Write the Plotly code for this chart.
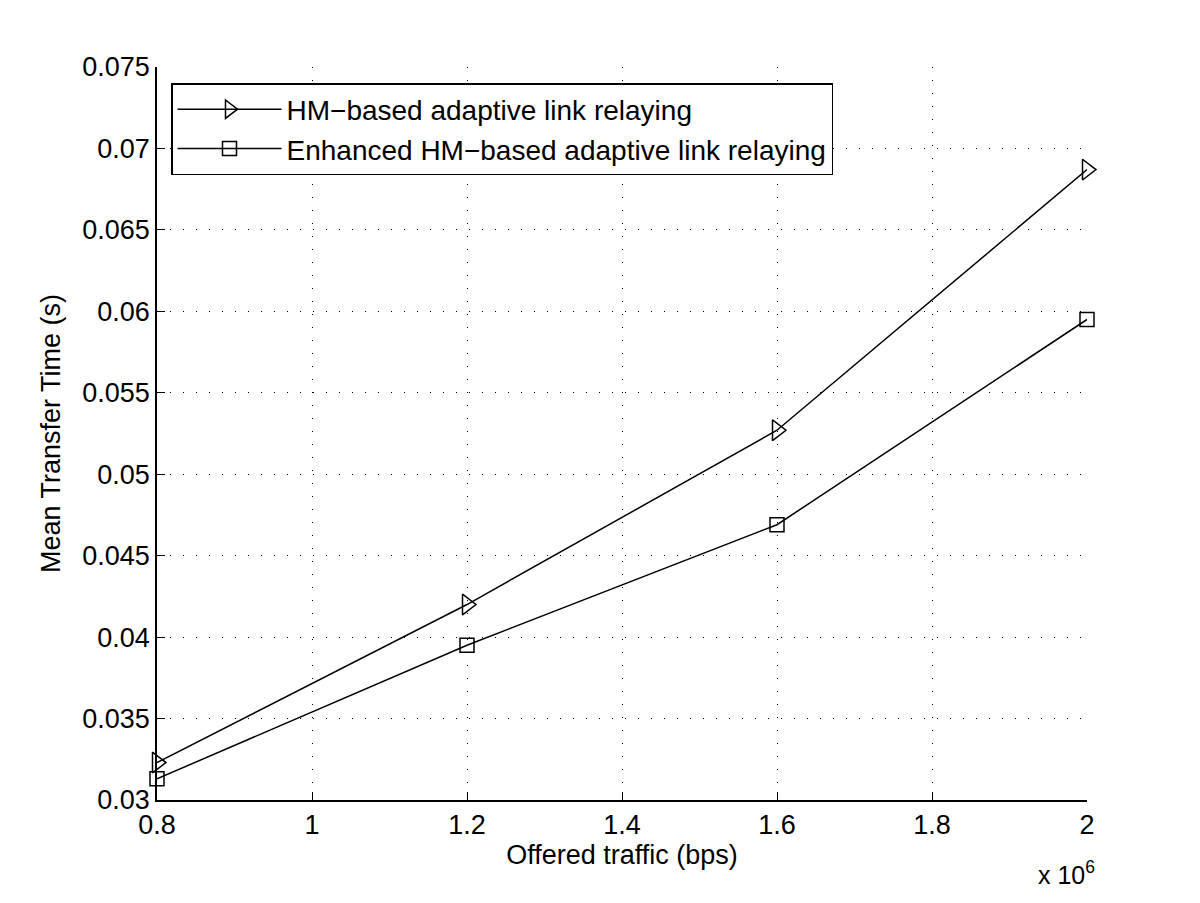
import plotly.graph_objects as go

offered_traffic = [0.8, 1.2, 1.6, 2.0]  # x 10^6 bps
hm_based = [0.0323, 0.0420, 0.0527, 0.0687]
enhanced_hm = [0.0313, 0.0395, 0.0469, 0.0595]
x_ticks = [0.8, 1.0, 1.2, 1.4, 1.6, 1.8, 2.0]
x_tick_labels = ["0.8", "1", "1.2", "1.4", "1.6", "1.8", "2"]
y_ticks = [0.03, 0.035, 0.04, 0.045, 0.05, 0.055, 0.06, 0.065, 0.07, 0.075]
y_tick_labels = ["0.03", "0.035", "0.04", "0.045", "0.05", "0.055", "0.06", "0.065", "0.07", "0.075"]

font = "Liberation Sans, Arial, Helvetica, sans-serif"

fig = go.Figure()
fig.add_trace(go.Scatter(
    x=offered_traffic, y=hm_based, mode="lines+markers",
    name="HM\u2212based adaptive link relaying",
    line=dict(color="black", width=1.5), cliponaxis=False,
    marker=dict(symbol="triangle-right-open", size=18, color="black", line=dict(width=1.5)),
))
fig.add_trace(go.Scatter(
    x=offered_traffic, y=enhanced_hm, mode="lines+markers",
    name="Enhanced HM\u2212based adaptive link relaying",
    line=dict(color="black", width=1.5), cliponaxis=False,
    marker=dict(symbol="square-open", size=14, color="black", line=dict(width=1.5)),
))

axis_common = dict(
    showline=True, linecolor="black", linewidth=1.5, mirror=False,
    ticks="inside", ticklen=8, tickcolor="black", tickwidth=1,
    showgrid=True, gridcolor="black", gridwidth=1, griddash="1px,12px",
    zeroline=False, tickfont=dict(family=font, size=27, color="black"),
)

fig.update_layout(
    width=1200, height=903,
    paper_bgcolor="white", plot_bgcolor="white",
    margin=dict(l=149, r=121, t=59, b=111),
    font=dict(family=font, color="black"),
    xaxis=dict(range=[0.8, 2.0], tickvals=x_ticks, ticktext=x_tick_labels,
               title=dict(text="Offered traffic (bps)", font=dict(family=font, size=27), standoff=2),
               **axis_common),
    yaxis=dict(range=[0.03, 0.075], tickvals=y_ticks, ticktext=y_tick_labels,
               title=dict(text="Mean Transfer Time (s)", font=dict(family=font, size=27), standoff=14),
               **axis_common),
    legend=dict(x=(171 - 157) / 930, y=1 - (83 - 67) / 733, xanchor="left", yanchor="top",
                bgcolor="white", bordercolor="black", borderwidth=1.5,
                font=dict(family=font, size=28, color="black"),
                itemwidth=104, tracegroupgap=4),
    showlegend=True,
)

fig.add_annotation(x=1.0, y=-0.075, xref="paper", yref="paper", xanchor="right", yanchor="top",
                   xshift=10, text="x 10<sup>6</sup>", showarrow=False,
                   font=dict(family=font, size=25, color="black"))

fig.write_html("out.html")
